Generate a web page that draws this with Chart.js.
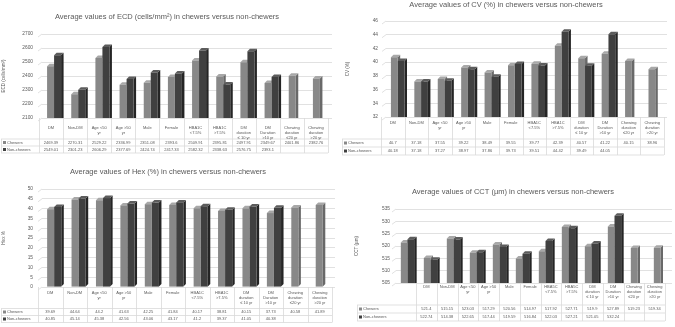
<!DOCTYPE html>
<html><head><meta charset="utf-8">
<script src="https://cdn.jsdelivr.net/npm/chart.js@4.4.1/dist/chart.umd.min.js"></script>
<style>
html,body{margin:0;padding:0;background:#fff;}
#wrap{position:relative;width:675px;height:327px;overflow:hidden;background:#fff;}
#wrap canvas{position:absolute;left:0;top:0;}
</style></head><body>
<div id="wrap">
<canvas id="cEcd" width="675" height="327"></canvas>
<canvas id="cCv" width="675" height="327"></canvas>
<canvas id="cHex" width="675" height="327"></canvas>
<canvas id="cCct" width="675" height="327"></canvas>
</div>
<script>
// ---------- DATA ----------
const seriesNames = ["Chewers", "Non-chewers"];
const categories = [["DM"],["Non-DM"],["Age <50","yr"],["Age >50","yr"],["Male"],["Female"],["HBA1C","<7.5%"],["HBA1C",">7.5%"],["DM","duration","\u2264 10 yr"],["DM","Duration",">10 yr"],["Chewing","duration","\u226420 yr"],["Chewing","duration",">20 yr"]];
const categoriesCct = [["DM"],["Non-DM"],["Age <50","yr"],["Age >50","yr"],["Male"],["Female"],["HBA5C","<7.5%"],["HBA5C",">7.5%"],["DM","duration","\u2264 10 yr"],["DM","Duration",">10 yr"],["Chewing","duration","\u226420 yr"],["Chewing","duration",">20 yr"]];

const ecdChewers = [2469.39, 2270.31, 2529.22, 2336.99, 2351.08, 2393.6, 2509.91, 2395.81, 2497.91, 2349.67, 2401.86, 2382.76];
const ecdNonChewers = [2549.01, 2301.23, 2606.29, 2377.69, 2424.74, 2417.33, 2582.32, 2338.63, 2576.75, 2393.1, null, null];
const ecdTicks = [2100, 2200, 2300, 2400, 2500, 2600, 2700];

const cvChewers = [40.7, 37.18, 37.55, 39.22, 38.49, 39.55, 39.77, 42.39, 40.57, 41.22, 40.15, 38.96];
const cvNonChewers = [40.18, 37.18, 37.27, 38.97, 37.86, 39.73, 39.51, 44.42, 39.49, 44.05, null, null];
const cvTicks = [32, 34, 36, 38, 40, 42, 44, 46];

const hexChewers = [39.69, 44.64, 44.2, 41.63, 42.25, 41.84, 40.17, 38.81, 40.15, 37.73, 40.58, 41.89];
const hexNonChewers = [40.85, 45.14, 45.38, 42.56, 43.06, 43.17, 41.2, 39.37, 41.05, 40.38, null, null];
const hexTicks = [0, 5, 10, 15, 20, 25, 30, 35, 40, 45, 50];

const cctChewers = [521.4, 515.15, 523.03, 517.29, 520.56, 514.97, 517.92, 527.71, 519.9, 527.89, 519.23, 519.34];
const cctNonChewers = [522.74, 514.38, 522.65, 517.44, 519.59, 516.84, 522.03, 527.21, 521.05, 532.24, null, null];
const cctTicks = [505, 510, 515, 520, 525, 530, 535];

// ---------- STYLE ----------
const FONT = '"Liberation Sans", Arial, sans-serif';
const TXT = '#595959';
const GRID = '#d9d9d9';
const FRONT = ['#888888', '#404040'];
const SIDE = ['#696969', '#252525'];
const TOP = ['#a8a8a8', '#5c5c5c'];
const DX = 2.5, DY = 2.5;

function makePanel(p) {
  const padLeft = p.yTitleX - 2.7;
  const decor = {
    id: 'decor',
    beforeDatasetsDraw(chart) {
      const ctx = chart.ctx;
      ctx.save();
      const area = chart.chartArea;
      ctx.beginPath();
      ctx.rect(area.left, area.top - 6, area.right - area.left + 6, area.bottom - area.top + 6);
      ctx.clip();
      chart.data.datasets.forEach((ds, di) => {
        const meta = chart.getDatasetMeta(di);
        meta.data.forEach((bar, i) => {
          if (ds.data[i] === null || ds.data[i] === undefined) return;
          const l = bar.x - bar.width / 2, r = bar.x + bar.width / 2, t = bar.y, b = bar.base;
          ctx.fillStyle = SIDE[di];
          ctx.beginPath();
          ctx.moveTo(r, t); ctx.lineTo(r + DX, t - DY); ctx.lineTo(r + DX, b - DY); ctx.lineTo(r, b); ctx.closePath();
          ctx.fill();
          ctx.fillStyle = TOP[di];
          ctx.beginPath();
          ctx.moveTo(l, t); ctx.lineTo(l + DX, t - DY); ctx.lineTo(r + DX, t - DY); ctx.lineTo(r, t); ctx.closePath();
          ctx.fill();
        });
      });
      ctx.restore();
    },
    afterDraw(chart) {
      const ctx = chart.ctx;
      const area = chart.chartArea;
      const ys = chart.scales.y;
      ctx.save();
      ctx.strokeStyle = GRID; ctx.lineWidth = 0.8;
      ys.ticks.forEach(tk => {
        const y = ys.getPixelForValue(tk.value);
        ctx.beginPath(); ctx.moveTo(area.left - 4, y + 3); ctx.lineTo(area.left, y); ctx.stroke();
      });
      ctx.fillStyle = TXT;
      ctx.font = p.titleSize + 'px ' + FONT;
      ctx.textAlign = 'center'; ctx.textBaseline = 'middle';
      ctx.fillText(p.title, p.titleX, p.titleY);
      const n = chart.data.labels.length;
      const colW = (p.tableR - p.tableL) / n;
      ctx.strokeStyle = GRID; ctx.lineWidth = 0.8;
      for (let i = 0; i <= n; i++) {
        const x = Math.round(p.tableL + i * colW) + 0.5;
        ctx.beginPath(); ctx.moveTo(x, area.bottom); ctx.lineTo(x, p.rowLines[2]); ctx.stroke();
      }
      p.rowLines.forEach(y => {
        ctx.beginPath(); ctx.moveTo(p.legendL, y); ctx.lineTo(p.tableR, y); ctx.stroke();
      });
      ctx.beginPath(); ctx.moveTo(p.legendL + 0.5, p.rowLines[0]); ctx.lineTo(p.legendL + 0.5, p.rowLines[2]); ctx.stroke();
      ctx.fillStyle = TXT;
      ctx.font = p.tableSize + 'px ' + FONT;
      ctx.textAlign = 'center'; ctx.textBaseline = 'middle';
      chart.data.labels.forEach((lines, i) => {
        const cx = p.tableL + (i + 0.5) * colW;
        lines.forEach((ln, k) => ctx.fillText(ln, cx, p.headerY + k * p.lineH));
      });
      chart.data.datasets.forEach((ds, di) => {
        const cy = p.rowY[di];
        ds.data.forEach((v, i) => {
          if (v === null || v === undefined) return;
          ctx.fillText(String(v), p.tableL + (i + 0.5) * colW, cy);
        });
        ctx.fillStyle = FRONT[di];
        ctx.fillRect(p.legendL + 2, cy - 1.5, 3, 3);
        ctx.fillStyle = TXT;
        ctx.textAlign = 'left';
        ctx.fillText(ds.label, p.legendL + 6, cy);
        ctx.textAlign = 'center';
      });
      ctx.restore();
    }
  };

  return new Chart(document.getElementById(p.id), {
    type: 'bar',
    data: {
      labels: p.cats,
      datasets: [
        { label: seriesNames[0], data: p.chewers, backgroundColor: FRONT[0], categoryPercentage: 0.58, barPercentage: 1 },
        { label: seriesNames[1], data: p.non, backgroundColor: FRONT[1], categoryPercentage: 0.58, barPercentage: 1 }
      ]
    },
    options: {
      responsive: false, animation: false, devicePixelRatio: 1,
      layout: { padding: { left: padLeft, top: p.plotT, right: 675 - p.plotR, bottom: 327 - p.plotB } },
      plugins: { legend: { display: false }, tooltip: { enabled: false }, title: { display: false } },
      scales: {
        x: { display: false, offset: true },
        y: {
          min: p.ticks[0], max: p.ticks[p.ticks.length - 1],
          ticks: { stepSize: p.ticks[1] - p.ticks[0], autoSkip: false, color: TXT, padding: p.tickPad,
                   font: { family: FONT, size: 4.8 }, callback: v => String(v) },
          grid: { color: GRID, drawTicks: false, lineWidth: 0.8 },
          border: { display: false },
          title: { display: true, text: p.yTitle, color: TXT, padding: 0, font: { family: FONT, size: 4.5, lineHeight: 1.2 } },
          afterFit(s) { s.width = p.plotL - padLeft; }
        }
      }
    },
    plugins: [decor]
  });
}

makePanel({ id: 'cEcd', title: 'Average values of ECD (cells/mm\u00b2) in chewers versus non-chewers', titleX: 167, titleY: 17, titleSize: 7.5,
  yTitle: 'ECD (cells/mm\u00b2)', yTitleX: 4, plotL: 42, plotR: 332, plotT: 34, plotB: 118, tickPad: 9, ticks: ecdTicks,
  cats: categories, chewers: ecdChewers, non: ecdNonChewers,
  tableL: 39, tableR: 328, legendL: 1, headerY: 128, lineH: 4.8, rowY: [142.5, 149.5], rowLines: [139, 146, 153], tableSize: 4 });

makePanel({ id: 'cCv', title: 'Average values of CV (%) in chewers versus non-chewers', titleX: 506, titleY: 5, titleSize: 7.5,
  yTitle: 'CV (%)', yTitleX: 348, plotL: 386, plotR: 667, plotT: 21, plotB: 117, tickPad: 8, ticks: cvTicks,
  cats: categories, chewers: cvChewers, non: cvNonChewers,
  tableL: 381, tableR: 664, legendL: 342, headerY: 123, lineH: 4.9, rowY: [143, 151], rowLines: [139, 147, 155], tableSize: 4 });

makePanel({ id: 'cHex', title: 'Average values of Hex (%) in chewers versus non-chewers', titleX: 168, titleY: 172, titleSize: 7.5,
  yTitle: 'Hex %', yTitleX: 4, plotL: 42, plotR: 335, plotT: 189, plotB: 287, tickPad: 9, ticks: hexTicks,
  cats: categories, chewers: hexChewers, non: hexNonChewers,
  tableL: 38, tableR: 332, legendL: 1, headerY: 293, lineH: 5, rowY: [312, 319], rowLines: [308.5, 315.5, 322.5], tableSize: 4 });

makePanel({ id: 'cCct', title: 'Average values of CCT (\u00b5m) in chewers versus non-chewers', titleX: 513, titleY: 192, titleSize: 7.5,
  yTitle: 'CCT (\u00b5m)', yTitleX: 357, plotL: 396, plotR: 672, plotT: 209, plotB: 283, tickPad: 6, ticks: cctTicks,
  cats: categoriesCct, chewers: cctChewers, non: cctNonChewers,
  tableL: 416, tableR: 665, legendL: 357, headerY: 287, lineH: 4.9, rowY: [309, 317], rowLines: [305, 313, 321], tableSize: 4 });
</script>
</body></html>
